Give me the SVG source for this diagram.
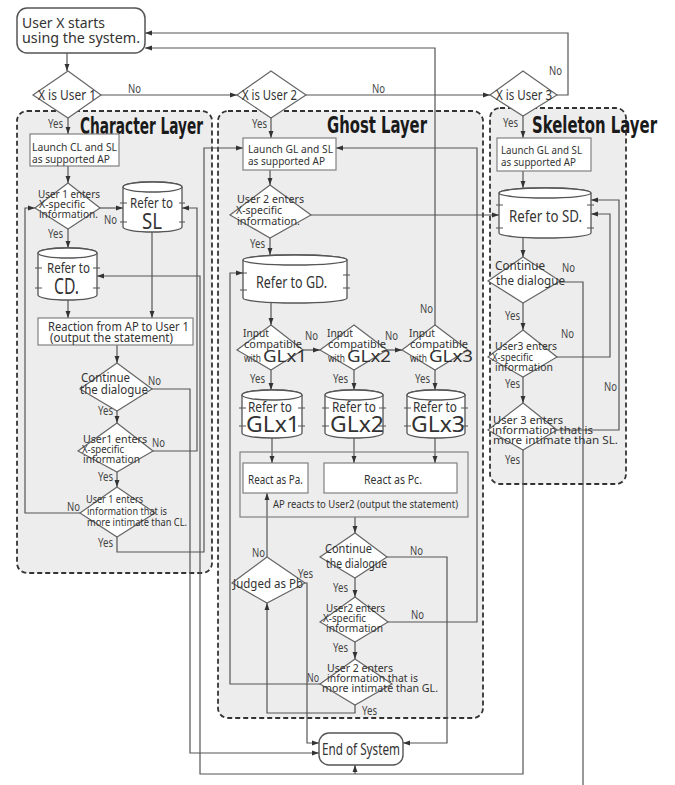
<svg xmlns="http://www.w3.org/2000/svg" width="675" height="785" viewBox="0 0 675 785">
<defs>
<marker id="ar" viewBox="0 0 10 10" refX="10" refY="5" markerWidth="7" markerHeight="7" markerUnits="userSpaceOnUse" orient="auto"><path d="M0,1.5L10,5L0,8.5z" fill="#333"/></marker>
<style>
.t{font-family:"Noto Sans","Liberation Sans",sans-serif;fill:#333}
.f12{font-size:11px}.f13{font-size:12.5px}.f14{font-size:13.5px}.f15{font-size:15px}.f16{font-size:16px}.f17{font-size:17px}.f22{font-size:22px}
.lb{font-family:"Noto Sans","Liberation Sans",sans-serif;font-size:12.5px;fill:#444}
.l{stroke:#555;stroke-width:1.2;fill:none}
.la{stroke:#555;stroke-width:1.2;fill:none;marker-end:url(#ar)}
.box{fill:#fff;stroke:#808080;stroke-width:1.2}
.dia{fill:#fff;stroke:#666;stroke-width:1.2}
.cyl{fill:#fff;stroke:#555;stroke-width:1.3}
.tick{stroke:#555;stroke-width:1.1;fill:none}
.layer{fill:#ededed;stroke:#333;stroke-width:1.8;stroke-dasharray:5 3}
.title{font-family:"DejaVu Sans Condensed","DejaVu Sans",sans-serif;font-weight:bold;font-size:23px;fill:#1a1a1a}
</style>
</defs>
<rect width="675" height="785" fill="#fff"/>

<g id="layer-character">
<rect class="layer" x="17" y="111" width="195" height="462" rx="10"/>
<text class="title" x="80" y="134" textLength="123" lengthAdjust="spacingAndGlyphs">Character Layer</text>
</g>
<g id="layer-ghost">
<rect class="layer" x="218" y="111" width="265" height="607" rx="10"/>
<text class="title" x="327" y="133" textLength="100" lengthAdjust="spacingAndGlyphs">Ghost Layer</text>
</g>
<g id="layer-skeleton">
<rect class="layer" x="490" y="108" width="136" height="376" rx="10"/>
<text class="title" x="532" y="133" textLength="125" lengthAdjust="spacingAndGlyphs">Skeleton Layer</text>
</g>

<g id="connectors">
<path class="la" d="M67 53V71"/>
<path class="la" d="M101 95H237"/>
<path class="la" d="M306 95H490"/>
<path class="la" d="M557 95H568V33H145"/>
<path class="la" d="M435 325V48H145"/>
<path class="la" d="M68 118V134"/>
<path class="la" d="M68 166V183"/>
<path class="la" d="M100 208H123"/>
<path class="la" d="M68 229V248"/>
<path class="la" d="M152 232V318"/>
<path class="la" d="M68 300V318"/>
<path class="la" d="M117 345V363"/>
<path class="la" d="M152 389H190V753H319"/>
<path class="la" d="M117 411V423"/>
<path class="la" d="M153 451H197V208H182"/>
<path class="la" d="M117 472V487"/>
<path class="la" d="M80 513H25V208H35"/>
<path class="la" d="M117 537V552H204V148H243"/>
<path class="la" d="M523 450V774H200V276H97"/>
<path class="la" d="M355 774V765"/>
<path class="l" d="M560 282H583V785"/>
<path class="la" d="M271 118V138"/>
<path class="la" d="M270 170V185"/>
<path class="la" d="M311 215H499"/>
<path class="la" d="M270 238V255"/>
<path class="la" d="M320 684H230V273H243"/>
<path class="la" d="M271 303V325"/>
<path class="la" d="M303 350H320"/>
<path class="la" d="M387 350H402"/>
<path class="la" d="M271 370V390"/>
<path class="la" d="M354 370V390"/>
<path class="la" d="M435 370V390"/>
<path class="la" d="M272 438V463"/>
<path class="la" d="M354 438V463"/>
<path class="la" d="M435 438V463"/>
<path class="la" d="M355 517V533"/>
<path class="la" d="M387 557H447V743H403"/>
<path class="la" d="M267 557V493"/>
<path class="la" d="M305 583H307V743H319"/>
<path class="la" d="M355 578V597"/>
<path class="la" d="M388 622H477V148H336"/>
<path class="la" d="M355 642V659"/>
<path class="la" d="M355 705V713H267V603"/>
<path class="la" d="M523 116V138"/>
<path class="la" d="M523 171V188"/>
<path class="la" d="M523 238V257"/>
<path class="la" d="M523 303V330"/>
<path class="la" d="M557 357H610V214H591"/>
<path class="la" d="M523 377V403"/>
<path class="la" d="M557 430H619V200H591"/>
<text class="lb" x="128" y="93" textLength="13" lengthAdjust="spacingAndGlyphs">No</text>
<text class="lb" x="372" y="93" textLength="13" lengthAdjust="spacingAndGlyphs">No</text>
<text class="lb" x="549" y="75" textLength="13" lengthAdjust="spacingAndGlyphs">No</text>
<text class="lb" x="420" y="313" textLength="13" lengthAdjust="spacingAndGlyphs">No</text>
<text class="lb" x="104" y="224" textLength="13" lengthAdjust="spacingAndGlyphs">No</text>
<text class="lb" x="148" y="385" textLength="13" lengthAdjust="spacingAndGlyphs">No</text>
<text class="lb" x="152" y="447" textLength="13" lengthAdjust="spacingAndGlyphs">No</text>
<text class="lb" x="67" y="511" textLength="13" lengthAdjust="spacingAndGlyphs">No</text>
<text class="lb" x="305" y="340" textLength="13" lengthAdjust="spacingAndGlyphs">No</text>
<text class="lb" x="385" y="340" textLength="13" lengthAdjust="spacingAndGlyphs">No</text>
<text class="lb" x="410" y="555" textLength="13" lengthAdjust="spacingAndGlyphs">No</text>
<text class="lb" x="252" y="557" textLength="13" lengthAdjust="spacingAndGlyphs">No</text>
<text class="lb" x="411" y="619" textLength="13" lengthAdjust="spacingAndGlyphs">No</text>
<text class="lb" x="307" y="682" textLength="12" lengthAdjust="spacingAndGlyphs">No</text>
<text class="lb" x="562" y="272" textLength="13" lengthAdjust="spacingAndGlyphs">No</text>
<text class="lb" x="561" y="338" textLength="13" lengthAdjust="spacingAndGlyphs">No</text>
<text class="lb" x="604" y="391" textLength="13" lengthAdjust="spacingAndGlyphs">No</text>
<text class="lb" x="48" y="128" textLength="15" lengthAdjust="spacingAndGlyphs">Yes</text>
<text class="lb" x="48" y="238" textLength="15" lengthAdjust="spacingAndGlyphs">Yes</text>
<text class="lb" x="98" y="415" textLength="15" lengthAdjust="spacingAndGlyphs">Yes</text>
<text class="lb" x="98" y="481" textLength="15" lengthAdjust="spacingAndGlyphs">Yes</text>
<text class="lb" x="98" y="547" textLength="15" lengthAdjust="spacingAndGlyphs">Yes</text>
<text class="lb" x="252" y="128" textLength="15" lengthAdjust="spacingAndGlyphs">Yes</text>
<text class="lb" x="250" y="248" textLength="15" lengthAdjust="spacingAndGlyphs">Yes</text>
<text class="lb" x="250" y="383" textLength="15" lengthAdjust="spacingAndGlyphs">Yes</text>
<text class="lb" x="333" y="383" textLength="15" lengthAdjust="spacingAndGlyphs">Yes</text>
<text class="lb" x="415" y="383" textLength="15" lengthAdjust="spacingAndGlyphs">Yes</text>
<text class="lb" x="333" y="592" textLength="15" lengthAdjust="spacingAndGlyphs">Yes</text>
<text class="lb" x="298" y="578" textLength="15" lengthAdjust="spacingAndGlyphs">Yes</text>
<text class="lb" x="333" y="652" textLength="15" lengthAdjust="spacingAndGlyphs">Yes</text>
<text class="lb" x="362" y="715" textLength="15" lengthAdjust="spacingAndGlyphs">Yes</text>
<text class="lb" x="503" y="127" textLength="15" lengthAdjust="spacingAndGlyphs">Yes</text>
<text class="lb" x="505" y="320" textLength="15" lengthAdjust="spacingAndGlyphs">Yes</text>
<text class="lb" x="505" y="388" textLength="15" lengthAdjust="spacingAndGlyphs">Yes</text>
<text class="lb" x="505" y="464" textLength="15" lengthAdjust="spacingAndGlyphs">Yes</text>
</g>

<g id="start">
<rect x="17" y="8" width="128" height="45" rx="10" fill="#fff" stroke="#555" stroke-width="1.5"/>
<text class="t f15" x="22" y="28" textLength="83" lengthAdjust="spacingAndGlyphs">User X starts</text>
<text class="t f15" x="22" y="43" textLength="118" lengthAdjust="spacingAndGlyphs">using the system.</text>
</g>
<g id="d-user1">
<polygon class="dia" points="68,71 101,95 68,118 33,95"/>
<text class="t f14" x="38" y="100" textLength="58" lengthAdjust="spacingAndGlyphs">X is User 1</text>
</g>
<g id="d-user2">
<polygon class="dia" points="271,71 306,95 271,118 237,95"/>
<text class="t f14" x="242" y="100" textLength="55" lengthAdjust="spacingAndGlyphs">X is User 2</text>
</g>
<g id="d-user3">
<polygon class="dia" points="523,71 557,95 523,116 490,95"/>
<text class="t f14" x="496" y="100" textLength="56" lengthAdjust="spacingAndGlyphs">X is User 3</text>
</g>

<g id="cl-launch">
<rect class="box" x="30" y="134" width="89" height="32"/>
<text class="t f12" x="32" y="151" textLength="85" lengthAdjust="spacingAndGlyphs">Launch CL and SL</text>
<text class="t f12" x="32" y="163" textLength="78" lengthAdjust="spacingAndGlyphs">as supported AP</text>
</g>
<g id="cl-xspec1">
<polygon class="dia" points="68,183 100,208 68,229 35,208"/>
<text class="t f12" x="38" y="198" textLength="62" lengthAdjust="spacingAndGlyphs">User 1 enters</text>
<text class="t f12" x="39" y="208" textLength="46" lengthAdjust="spacingAndGlyphs">X-specific</text>
<text class="t f12" x="39" y="218" textLength="59" lengthAdjust="spacingAndGlyphs">information.</text>
</g>
<g id="cl-sl">
<path class="cyl" d="M123 187V227A29.5 5 0 0 0 182 227V187A29.5 5 0 0 0 123 187Z"/>
<ellipse class="cyl" cx="152.5" cy="187" rx="29.5" ry="5"/>
<path class="tick" d="M120 203h7M120 222h7M179 203h6M179 222h6"/>
<text class="t f14" x="130" y="208" textLength="43" lengthAdjust="spacingAndGlyphs">Refer to</text>
<text class="t f22" x="142" y="229" textLength="20" lengthAdjust="spacingAndGlyphs">SL</text>
</g>
<g id="cl-cd">
<path class="cyl" d="M38 253V295A29.5 5 0 0 0 97 295V253A29.5 5 0 0 0 38 253Z"/>
<ellipse class="cyl" cx="67.5" cy="253" rx="29.5" ry="5"/>
<path class="tick" d="M35 268h7M35 288h7M93 268h7M93 288h7"/>
<text class="t f14" x="47" y="273" textLength="43" lengthAdjust="spacingAndGlyphs">Refer to</text>
<text class="t f22" x="54" y="294" textLength="25" lengthAdjust="spacingAndGlyphs">CD.</text>
</g>
<g id="cl-reaction">
<rect class="box" x="38" y="318" width="155" height="27"/>
<text class="t f13" x="48" y="331" textLength="141" lengthAdjust="spacingAndGlyphs">Reaction from AP to User 1</text>
<text class="t f13" x="50" y="342" textLength="123" lengthAdjust="spacingAndGlyphs">(output the statement)</text>
</g>
<g id="cl-continue">
<polygon class="dia" points="117,363 152,389 117,411 80,389"/>
<text class="t f13" x="81" y="382" textLength="49" lengthAdjust="spacingAndGlyphs">Continue</text>
<text class="t f13" x="80" y="394" textLength="68" lengthAdjust="spacingAndGlyphs">the dialogue</text>
</g>
<g id="cl-xspec2">
<polygon class="dia" points="117,423 153,451 117,472 78,451"/>
<text class="t f12" x="83" y="443" textLength="64" lengthAdjust="spacingAndGlyphs">User1 enters</text>
<text class="t f12" x="82" y="453" textLength="42" lengthAdjust="spacingAndGlyphs">X-specific</text>
<text class="t f12" x="83" y="463" textLength="57" lengthAdjust="spacingAndGlyphs">information</text>
</g>
<g id="cl-intimate">
<polygon class="dia" points="117,487 155,513 117,537 80,513"/>
<text class="t f12" x="86" y="503" textLength="57" lengthAdjust="spacingAndGlyphs">User 1 enters</text>
<text class="t f12" x="87" y="515" textLength="80" lengthAdjust="spacingAndGlyphs">information that is</text>
<text class="t f12" x="87" y="526" textLength="100" lengthAdjust="spacingAndGlyphs">more intimate than CL.</text>
</g>

<g id="gl-launch">
<rect class="box" x="243" y="138" width="93" height="32"/>
<text class="t f12" x="248" y="153" textLength="85" lengthAdjust="spacingAndGlyphs">Launch GL and SL</text>
<text class="t f12" x="248" y="165" textLength="77" lengthAdjust="spacingAndGlyphs">as supported AP</text>
</g>
<g id="gl-xspec1">
<polygon class="dia" points="270,185 311,215 270,238 230,215"/>
<text class="t f12" x="237" y="203" textLength="67" lengthAdjust="spacingAndGlyphs">User 2 enters</text>
<text class="t f12" x="236" y="214" textLength="46" lengthAdjust="spacingAndGlyphs">X-specific</text>
<text class="t f12" x="237" y="225" textLength="63" lengthAdjust="spacingAndGlyphs">information.</text>
</g>
<g id="gl-gd">
<path class="cyl" d="M243 260V298A52 5 0 0 0 347 298V260A52 5 0 0 0 243 260Z"/>
<ellipse class="cyl" cx="295" cy="260" rx="52" ry="5"/>
<path class="tick" d="M240 273h7M240 290h7M343 275h7M343 288h7"/>
<text class="t f17" x="256" y="288" textLength="71" lengthAdjust="spacingAndGlyphs">Refer to GD.</text>
</g>
<g id="gl-glx1-q">
<polygon class="dia" points="271,325 303,350 271,370 237,350"/>
<text class="t f12" x="243" y="337" textLength="26" lengthAdjust="spacingAndGlyphs">Input</text>
<text class="t f12" x="244" y="348" textLength="58" lengthAdjust="spacingAndGlyphs">compatible</text>
<text class="t f12" x="244" y="362" textLength="17" lengthAdjust="spacingAndGlyphs">with</text>
<text class="t f17" x="263" y="362" textLength="44" lengthAdjust="spacingAndGlyphs">GLx1</text>
</g>
<g id="gl-glx2-q">
<polygon class="dia" points="354,325 387,350 354,370 320,350"/>
<text class="t f12" x="327" y="337" textLength="26" lengthAdjust="spacingAndGlyphs">Input</text>
<text class="t f12" x="328" y="348" textLength="58" lengthAdjust="spacingAndGlyphs">compatible</text>
<text class="t f12" x="328" y="362" textLength="17" lengthAdjust="spacingAndGlyphs">with</text>
<text class="t f17" x="347" y="362" textLength="44" lengthAdjust="spacingAndGlyphs">GLx2</text>
</g>
<g id="gl-glx3-q">
<polygon class="dia" points="435,325 468,350 435,370 402,350"/>
<text class="t f12" x="409" y="337" textLength="26" lengthAdjust="spacingAndGlyphs">Input</text>
<text class="t f12" x="410" y="348" textLength="58" lengthAdjust="spacingAndGlyphs">compatible</text>
<text class="t f12" x="410" y="362" textLength="17" lengthAdjust="spacingAndGlyphs">with</text>
<text class="t f17" x="429" y="362" textLength="44" lengthAdjust="spacingAndGlyphs">GLx3</text>
</g>
<g id="gl-glx1">
<path class="cyl" d="M242 395V433A30 5 0 0 0 302 433V395A30 5 0 0 0 242 395Z"/>
<ellipse class="cyl" cx="272" cy="395" rx="30" ry="5"/>
<path class="tick" d="M239 408h7M239 426h7M298 408h7M298 426h7"/>
<text class="t f14" x="248" y="412" textLength="44" lengthAdjust="spacingAndGlyphs">Refer to</text>
<text class="t f22" x="246" y="432" textLength="54" lengthAdjust="spacingAndGlyphs">GLx1</text>
</g>
<g id="gl-glx2">
<path class="cyl" d="M325 395V433A29 5 0 0 0 383 433V395A29 5 0 0 0 325 395Z"/>
<ellipse class="cyl" cx="354" cy="395" rx="29" ry="5"/>
<path class="tick" d="M322 408h7M322 426h7M379 408h7M379 426h7"/>
<text class="t f14" x="332" y="412" textLength="44" lengthAdjust="spacingAndGlyphs">Refer to</text>
<text class="t f22" x="330" y="432" textLength="54" lengthAdjust="spacingAndGlyphs">GLx2</text>
</g>
<g id="gl-glx3">
<path class="cyl" d="M407 395V433A29 5 0 0 0 465 433V395A29 5 0 0 0 407 395Z"/>
<ellipse class="cyl" cx="436" cy="395" rx="29" ry="5"/>
<path class="tick" d="M404 408h7M404 426h7M461 408h7M461 426h7"/>
<text class="t f14" x="413" y="412" textLength="44" lengthAdjust="spacingAndGlyphs">Refer to</text>
<text class="t f22" x="411" y="432" textLength="54" lengthAdjust="spacingAndGlyphs">GLx3</text>
</g>
<g id="gl-reacts">
<rect x="240" y="452" width="228" height="65" fill="none" stroke="#808080" stroke-width="1.2"/>
<text class="t f12" x="273" y="508" textLength="185" lengthAdjust="spacingAndGlyphs">AP reacts to User2 (output the statement)</text>
</g>
<g id="gl-pa">
<rect class="box" x="243" y="463" width="65" height="30"/>
<text class="t f13" x="248" y="484" textLength="55" lengthAdjust="spacingAndGlyphs">React as Pa.</text>
</g>
<g id="gl-pc">
<rect class="box" x="324" y="463" width="133" height="30"/>
<text class="t f13" x="364" y="484" textLength="58" lengthAdjust="spacingAndGlyphs">React as Pc.</text>
</g>
<g id="gl-continue">
<polygon class="dia" points="355,533 387,557 355,578 320,557"/>
<text class="t f13" x="325" y="553" textLength="47" lengthAdjust="spacingAndGlyphs">Continue</text>
<text class="t f13" x="326" y="568" textLength="61" lengthAdjust="spacingAndGlyphs">the dialogue</text>
</g>
<g id="gl-judged">
<polygon class="dia" points="267,557 305,583 267,603 232,583"/>
<text class="t f13" x="233" y="588" textLength="70" lengthAdjust="spacingAndGlyphs">Judged as Pb</text>
</g>
<g id="gl-xspec2">
<polygon class="dia" points="355,597 388,622 355,642 320,622"/>
<text class="t f12" x="326" y="612" textLength="59" lengthAdjust="spacingAndGlyphs">User2 enters</text>
<text class="t f12" x="323" y="622" textLength="43" lengthAdjust="spacingAndGlyphs">X-specific</text>
<text class="t f12" x="326" y="632" textLength="57" lengthAdjust="spacingAndGlyphs">information</text>
</g>
<g id="gl-intimate">
<polygon class="dia" points="355,659 392,684 355,705 320,684"/>
<text class="t f12" x="327" y="672" textLength="66" lengthAdjust="spacingAndGlyphs">User 2 enters</text>
<text class="t f12" x="327" y="682" textLength="91" lengthAdjust="spacingAndGlyphs">information that is</text>
<text class="t f12" x="322" y="692" textLength="116" lengthAdjust="spacingAndGlyphs">more intimate than GL.</text>
</g>
<g id="end">
<rect x="319" y="733" width="84" height="32" rx="10" fill="#fff" stroke="#555" stroke-width="1.4"/>
<text class="t f16" x="322" y="755" textLength="78" lengthAdjust="spacingAndGlyphs">End of System</text>
</g>

<g id="sl-launch">
<rect class="box" x="497" y="138" width="94" height="33"/>
<text class="t f12" x="501" y="154" textLength="81" lengthAdjust="spacingAndGlyphs">Launch GL and SL</text>
<text class="t f12" x="501" y="166" textLength="75" lengthAdjust="spacingAndGlyphs">as supported AP</text>
</g>
<g id="sl-sd">
<path class="cyl" d="M499 193V233A46 5 0 0 0 591 233V193A46 5 0 0 0 499 193Z"/>
<ellipse class="cyl" cx="545" cy="193" rx="46" ry="5"/>
<path class="tick" d="M496 205h7M496 228h7M587 205h7M587 228h7"/>
<text class="t f17" x="509" y="222" textLength="73" lengthAdjust="spacingAndGlyphs">Refer to SD.</text>
</g>
<g id="sl-continue">
<polygon class="dia" points="523,257 560,281 523,303 488,281"/>
<text class="t f13" x="495" y="270" textLength="50" lengthAdjust="spacingAndGlyphs">Continue</text>
<text class="t f13" x="496" y="285" textLength="69" lengthAdjust="spacingAndGlyphs">the dialogue</text>
</g>
<g id="sl-xspec">
<polygon class="dia" points="523,330 557,357 523,377 488,357"/>
<text class="t f12" x="495" y="350" textLength="62" lengthAdjust="spacingAndGlyphs">User3 enters</text>
<text class="t f12" x="492" y="361" textLength="41" lengthAdjust="spacingAndGlyphs">X-specific</text>
<text class="t f12" x="495" y="371" textLength="58" lengthAdjust="spacingAndGlyphs">information</text>
</g>
<g id="sl-intimate">
<polygon class="dia" points="523,403 557,430 523,450 488,430"/>
<text class="t f12" x="493" y="424" textLength="70" lengthAdjust="spacingAndGlyphs">User 3 enters</text>
<text class="t f12" x="492" y="434" textLength="101" lengthAdjust="spacingAndGlyphs">information that is</text>
<text class="t f12" x="493" y="444" textLength="125" lengthAdjust="spacingAndGlyphs">more intimate than SL.</text>
</g>
</svg>
